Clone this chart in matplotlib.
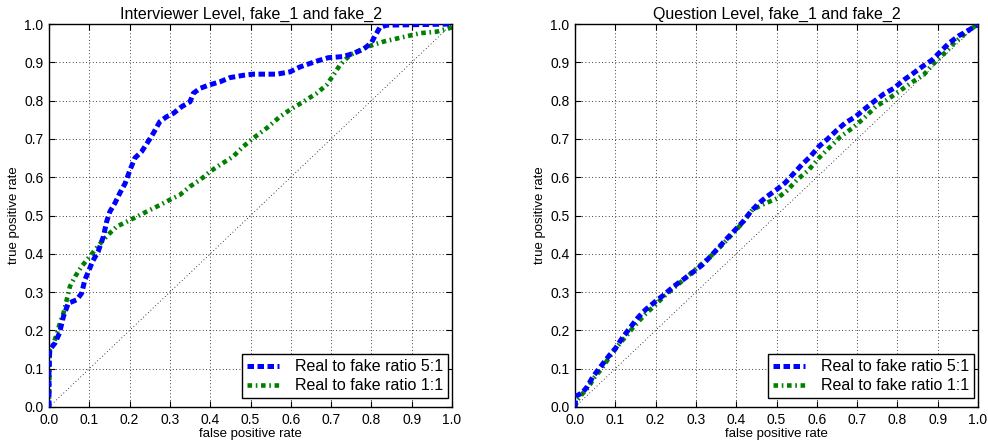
import matplotlib
matplotlib.use("Agg")
import matplotlib.pyplot as plt

plt.rcParams['font.family'] = ['Liberation Sans', 'DejaVu Sans']

# Left panel: Interviewer level
left_fpr_51 = [0.0, 0.0, 0.002, 0.015, 0.026, 0.036, 0.048, 0.069, 0.081, 0.089, 0.098, 0.108,
               0.122, 0.135, 0.143, 0.151, 0.164, 0.176, 0.189, 0.201, 0.213, 0.23, 0.246,
               0.259, 0.275, 0.292, 0.309, 0.329, 0.35, 0.358, 0.375, 0.395, 0.424, 0.449,
               0.482, 0.507, 0.565, 0.598, 0.623, 0.664, 0.693, 0.73, 0.755, 0.78, 0.8,
               0.809, 0.821, 0.838, 1.0]
left_tpr_51 = [0.0, 0.106, 0.15, 0.167, 0.193, 0.237, 0.271, 0.28, 0.297, 0.332, 0.354, 0.38,
               0.406, 0.445, 0.484, 0.51, 0.533, 0.559, 0.584, 0.619, 0.65, 0.667, 0.693,
               0.715, 0.745, 0.758, 0.767, 0.784, 0.797, 0.819, 0.832, 0.84, 0.849, 0.86,
               0.866, 0.869, 0.869, 0.875, 0.888, 0.903, 0.912, 0.915, 0.923, 0.934, 0.951,
               0.969, 0.991, 0.997, 1.0]
left_fpr_11 = [0.0, 0.001, 0.002, 0.01, 0.019, 0.027, 0.036, 0.044, 0.052, 0.065, 0.081, 0.098,
               0.118, 0.135, 0.151, 0.168, 0.193, 0.218, 0.242, 0.267, 0.3, 0.325, 0.35,
               0.375, 0.4, 0.424, 0.457, 0.482, 0.507, 0.54, 0.573, 0.598, 0.631, 0.664,
               0.689, 0.706, 0.722, 0.747, 0.772, 0.797, 0.83, 0.871, 0.921, 0.962, 1.0]
left_tpr_11 = [0.0, 0.08, 0.15, 0.163, 0.189, 0.219, 0.245, 0.28, 0.315, 0.341, 0.367, 0.389,
               0.415, 0.437, 0.454, 0.471, 0.484, 0.497, 0.51, 0.523, 0.541, 0.554, 0.576,
               0.593, 0.615, 0.632, 0.654, 0.68, 0.702, 0.728, 0.758, 0.776, 0.797, 0.819,
               0.841, 0.867, 0.893, 0.919, 0.932, 0.943, 0.954, 0.964, 0.976, 0.98, 0.991]

# Right panel: Question level
right_fpr_51 = [0.0, 0.002, 0.018, 0.031, 0.045, 0.064, 0.083, 0.101, 0.117, 0.136, 0.155,
                0.175, 0.2, 0.221, 0.245, 0.27, 0.295, 0.316, 0.336, 0.357, 0.378, 0.398,
                0.417, 0.436, 0.456, 0.477, 0.502, 0.522, 0.543, 0.564, 0.584, 0.605, 0.626,
                0.65, 0.671, 0.696, 0.721, 0.741, 0.766, 0.791, 0.816, 0.839, 0.862, 0.886,
                0.907, 0.928, 0.952, 0.977, 0.998]
right_tpr_51 = [0.0, 0.028, 0.037, 0.054, 0.08, 0.106, 0.132, 0.154, 0.18, 0.206, 0.232,
                0.254, 0.276, 0.293, 0.315, 0.334, 0.354, 0.371, 0.393, 0.417, 0.441, 0.463,
                0.484, 0.51, 0.532, 0.55, 0.569, 0.586, 0.61, 0.634, 0.654, 0.68, 0.699,
                0.723, 0.742, 0.758, 0.78, 0.797, 0.817, 0.832, 0.854, 0.871, 0.889, 0.906,
                0.928, 0.95, 0.969, 0.984, 0.997]
right_fpr_11 = [0.0, 0.006, 0.018, 0.035, 0.047, 0.064, 0.084, 0.105, 0.126, 0.146, 0.175,
                0.2, 0.221, 0.25, 0.279, 0.307, 0.336, 0.365, 0.39, 0.415, 0.44, 0.469, 0.502,
                0.526, 0.551, 0.58, 0.605, 0.63, 0.659, 0.688, 0.717, 0.746, 0.774, 0.803,
                0.832, 0.865, 0.89, 0.915, 0.94, 0.969, 0.996]
right_tpr_11 = [0.0, 0.019, 0.034, 0.054, 0.076, 0.097, 0.128, 0.158, 0.184, 0.21, 0.243,
                0.267, 0.289, 0.315, 0.341, 0.367, 0.393, 0.423, 0.451, 0.48, 0.515, 0.53,
                0.545, 0.565, 0.593, 0.619, 0.65, 0.676, 0.706, 0.728, 0.754, 0.784, 0.802,
                0.823, 0.845, 0.867, 0.897, 0.922, 0.95, 0.976, 0.997]

titles = ["Interviewer Level, fake_1 and fake_2", "Question Level, fake_1 and fake_2"]
labels = ["Real to fake ratio 5:1", "Real to fake ratio 1:1"]
ticks = [0.0, 0.1, 0.2, 0.3, 0.4, 0.5, 0.6, 0.7, 0.8, 0.9, 1.0]
tick_labels = ["0.0", "0.1", "0.2", "0.3", "0.4", "0.5", "0.6", "0.7", "0.8", "0.9", "1.0"]

fig = plt.figure(figsize=(9.88, 4.42), dpi=100)
ax1 = fig.add_axes([49/988, 35/442, 403/988, 383/442])
ax2 = fig.add_axes([575/988, 35/442, 403/988, 383/442])

panels = [
    (ax1, left_fpr_51, left_tpr_51, left_fpr_11, left_tpr_11, titles[0]),
    (ax2, right_fpr_51, right_tpr_51, right_fpr_11, right_tpr_11, titles[1]),
]

for ax, fx5, ty5, fx1, ty1, title in panels:
    ax.plot([0, 1], [0, 1], color='black', lw=0.6, linestyle=(0, (1, 3)), zorder=1)
    ax.plot(fx5, ty5, color='blue', lw=3.6, linestyle=(0, (1.3, 0.7)), label=labels[0], zorder=3)
    ax.plot(fx1, ty1, color='green', lw=3.3, linestyle=(0, (1.0, 0.8, 0.35, 0.8)), label=labels[1], zorder=2)
    ax.set_xlim(0, 1)
    ax.set_ylim(0, 1)
    ax.set_xticks(ticks)
    ax.set_xticklabels(tick_labels)
    ax.set_yticks(ticks)
    ax.set_yticklabels(tick_labels)
    ax.tick_params(direction='in', top=True, right=True, length=4, width=0.8,
                   labelsize=10, pad=4, colors='black')
    ax.grid(True, color='black', lw=0.6, linestyle=(0, (1, 3)))
    for s in ax.spines.values():
        s.set_linewidth(1.0)
        s.set_color('black')
    ax.set_title(title, fontsize=11.5, pad=4)
    ax.set_xlabel("false positive rate", fontsize=9.5, labelpad=1)
    ax.set_ylabel("true positive rate", fontsize=9.5, labelpad=3)
    leg = ax.legend(loc='lower right', bbox_to_anchor=(0.99, 0.0235), borderaxespad=0,
                    fontsize=11.5, fancybox=False, framealpha=1,
                    edgecolor='black', labelspacing=0.25, borderpad=0.3,
                    handlelength=2.0, handletextpad=1.0)
    leg.get_frame().set_linewidth(1.0)

fig.savefig("out.png", dpi=100)
